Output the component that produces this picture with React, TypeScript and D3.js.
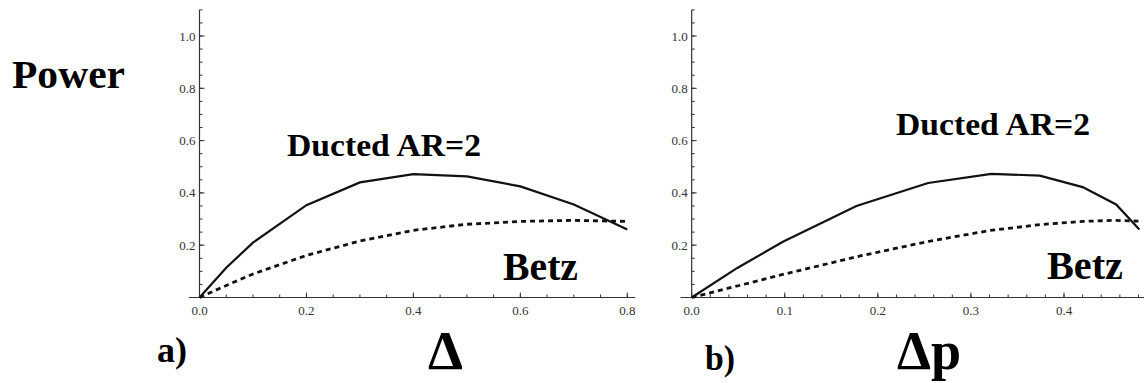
import { useEffect, useRef } from 'react';
import * as d3 from 'd3';

const W = 1144;
const H = 383;

// panel a) power against Δ
const deltaA = [0, 0.05, 0.1, 0.2, 0.3, 0.4, 0.5, 0.6, 0.7, 0.8];
const ductedA = [0, 0.114, 0.21, 0.353, 0.44, 0.472, 0.463, 0.425, 0.356, 0.26];
const betzDeltaA = [0, 0.05, 0.1, 0.2, 0.3, 0.4, 0.5, 0.6, 0.7, 0.8];
const betzA = [0, 0.046, 0.09, 0.161, 0.216, 0.257, 0.28, 0.291, 0.295, 0.291];
const xTicksA = [0, 0.2, 0.4, 0.6, 0.8];

// panel b) power against Δp
const deltaPB = [0, 0.049, 0.098, 0.177, 0.254, 0.322, 0.374, 0.42, 0.456, 0.481];
const ductedB = [0, 0.113, 0.213, 0.35, 0.438, 0.473, 0.466, 0.422, 0.356, 0.26];
const betzDeltaPB = [0, 0.05, 0.1, 0.18, 0.255, 0.32, 0.375, 0.42, 0.455, 0.48];
const betzB = [0, 0.045, 0.09, 0.158, 0.215, 0.256, 0.279, 0.291, 0.295, 0.292];
const xTicksB = [0, 0.1, 0.2, 0.3, 0.4];

const yTicks = [0.2, 0.4, 0.6, 0.8, 1.0];

const serif = "'Liberation Serif', 'Times New Roman', serif";

export default function App() {
  const ref = useRef<SVGSVGElement>(null);

  useEffect(() => {
    const svg = d3.select(ref.current);
    svg.selectAll('*').remove();

    const y = d3.scaleLinear().domain([0, 1]).range([297.5, 36]);

    const panels = [
      {
        x: d3.scaleLinear().domain([0, 0.8]).range([199.5, 627.3]),
        xMin: -0.02, xMax: 0.815, minorStep: 0.05, xTicks: xTicksA,
        ducted: deltaA.map((d, i) => [d, ductedA[i]]),
        betz: betzDeltaA.map((d, i) => [d, betzA[i]]),
      },
      {
        x: d3.scaleLinear().domain([0, 0.4]).range([691.7, 1064]),
        xMin: -0.012, xMax: 0.49, minorStep: 0.02, xTicks: xTicksB,
        ducted: deltaPB.map((d, i) => [d, ductedB[i]]),
        betz: betzDeltaPB.map((d, i) => [d, betzB[i]]),
      },
    ];

    panels.forEach(p => {
      const g = svg.append('g');
      const x0 = p.x(0);
      const axisCol = '#333';

      // axes lines
      g.append('line')
        .attr('x1', p.x(p.xMin)).attr('x2', Math.min(p.x(p.xMax), W))
        .attr('y1', y(0)).attr('y2', y(0))
        .attr('stroke', axisCol).attr('stroke-width', 1.2);
      g.append('line')
        .attr('x1', x0).attr('x2', x0)
        .attr('y1', y(0)).attr('y2', y(1.1))
        .attr('stroke', axisCol).attr('stroke-width', 1.2);

      // x ticks, pointing up into the plot
      const xMinor = d3.range(p.minorStep, p.xMax, p.minorStep);
      g.selectAll('.xminor').data(xMinor).enter().append('line')
        .attr('x1', d => p.x(d)).attr('x2', d => p.x(d))
        .attr('y1', y(0)).attr('y2', y(0) - 3)
        .attr('stroke', axisCol).attr('stroke-width', 1);
      g.selectAll('.xmajor').data(p.xTicks).enter().append('line')
        .attr('x1', d => p.x(d)).attr('x2', d => p.x(d))
        .attr('y1', y(0)).attr('y2', y(0) - 5)
        .attr('stroke', axisCol).attr('stroke-width', 1);
      g.selectAll('.xlab').data(p.xTicks).enter().append('text')
        .attr('x', d => p.x(d)).attr('y', y(0) + 17.5)
        .attr('text-anchor', 'middle')
        .attr('font-family', serif).attr('font-size', 13).attr('fill', '#333')
        .text(d => d3.format('.1f')(d));

      // y ticks, pointing right into the plot
      const yMinor = d3.range(0.05, 1.11, 0.05);
      g.selectAll('.yminor').data(yMinor).enter().append('line')
        .attr('x1', x0).attr('x2', x0 + 3)
        .attr('y1', d => y(d)).attr('y2', d => y(d))
        .attr('stroke', axisCol).attr('stroke-width', 1);
      g.selectAll('.ymajor').data(yTicks).enter().append('line')
        .attr('x1', x0).attr('x2', x0 + 5)
        .attr('y1', d => y(d)).attr('y2', d => y(d))
        .attr('stroke', axisCol).attr('stroke-width', 1);
      g.selectAll('.ylab').data(yTicks).enter().append('text')
        .attr('x', x0 - 4).attr('y', d => y(d) + 4.5)
        .attr('text-anchor', 'end')
        .attr('font-family', serif).attr('font-size', 13).attr('fill', '#333')
        .text(d => d3.format('.1f')(d));

      const line = d3.line<number[]>()
        .x(d => p.x(d[0]))
        .y(d => y(d[1]));

      g.append('path')
        .attr('d', line(p.betz))
        .attr('fill', 'none').attr('stroke', '#111')
        .attr('stroke-width', 2.8).attr('stroke-dasharray', '5,4');
      g.append('path')
        .attr('d', line(p.ducted))
        .attr('fill', 'none').attr('stroke', '#111')
        .attr('stroke-width', 2.2);
    });

    // big annotation labels (textLength matches the heavier original face)
    const labels = [
      { t: 'Power', x: 12, y: 88, s: 39, w: 113 },
      { t: 'Ducted AR=2', x: 287, y: 156, s: 32, w: 194 },
      { t: 'Ducted AR=2', x: 896, y: 135, s: 32, w: 194 },
      { t: 'Betz', x: 503, y: 280, s: 40, w: 75 },
      { t: 'Betz', x: 1047, y: 279, s: 40, w: 76 },
      { t: 'a)', x: 157, y: 362, s: 35, w: 30 },
      { t: 'b)', x: 705, y: 370, s: 36, w: 30 },
      { t: 'Δ', x: 428, y: 369, s: 55, w: 35 },
      { t: 'Δp', x: 897, y: 369, s: 55, w: 64 },
    ];
    svg.selectAll('.lbl').data(labels).enter().append('text')
      .attr('x', d => d.x).attr('y', d => d.y)
      .attr('font-family', serif).attr('font-weight', 'bold')
      .attr('font-size', d => d.s).attr('fill', '#000')
      .attr('textLength', d => d.w).attr('lengthAdjust', 'spacingAndGlyphs')
      .text(d => d.t);
  }, []);

  return (
    <div style={{ position: 'absolute', left: 0, top: 0, width: W, height: H, background: '#fff' }}>
      <svg ref={ref} width={W} height={H} style={{ display: 'block' }}></svg>
    </div>
  );
}
